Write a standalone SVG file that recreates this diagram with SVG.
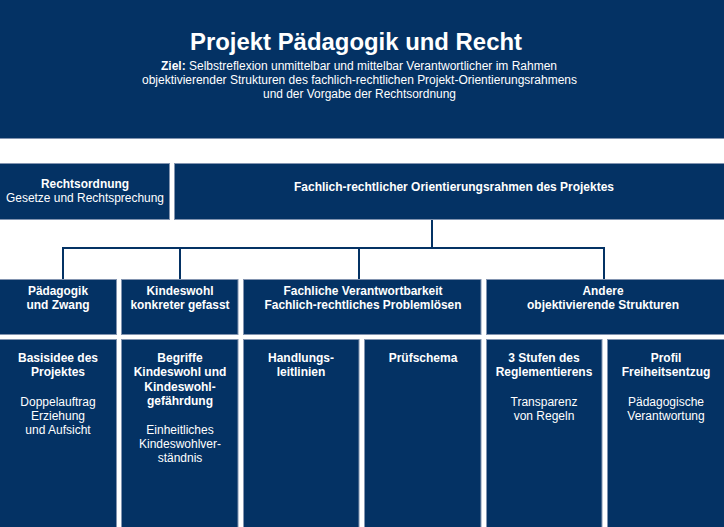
<svg xmlns="http://www.w3.org/2000/svg" width="724" height="527" viewBox="0 0 724 527">
<style>
.box{fill:#043264;stroke:#8294b0;stroke-width:1}
text{fill:#ffffff;font-family:"Liberation Sans",Arial,sans-serif;text-anchor:middle}
.b{font-weight:bold;font-size:12px}
.r{font-size:12px}
.con{fill:none;stroke:#043264;stroke-width:2}
</style>
<rect x="0" y="0" width="724" height="527" fill="#ffffff"/>
<g id="header">
<rect class="box" x="-1" y="-1" width="726" height="139.5"/>
<text x="356" y="50" font-size="24" font-weight="bold" textLength="332" lengthAdjust="spacingAndGlyphs">Projekt Pädagogik und Recht</text>
<text class="r" x="359" y="70" textLength="396" lengthAdjust="spacingAndGlyphs"><tspan font-weight="bold">Ziel:</tspan> Selbstreflexion unmittelbar und mittelbar Verantwortlicher im Rahmen</text>
<text class="r" x="359.5" y="84" textLength="435" lengthAdjust="spacingAndGlyphs">objektivierender Strukturen des fachlich-rechtlichen Projekt-Orientierungsrahmens</text>
<text class="r" x="359.5" y="98" textLength="193" lengthAdjust="spacingAndGlyphs">und der Vorgabe der Rechtsordnung</text>
</g>
<g id="connectors">
<path class="con" d="M432,219 V248 M63,279 V248 H604 V279 M180,248 V279 M359,248 V279"/>
</g>
<g id="rechtsordnung">
<rect class="box" x="-1" y="163.5" width="170.5" height="56"/>
<text class="b" x="85" y="188" textLength="88" lengthAdjust="spacingAndGlyphs">Rechtsordnung</text>
<text class="r" x="85" y="202" textLength="158" lengthAdjust="spacingAndGlyphs">Gesetze und Rechtsprechung</text>
</g>
<g id="rahmen">
<rect class="box" x="174.5" y="163.5" width="551" height="56"/>
<text class="b" x="454" y="191" textLength="320" lengthAdjust="spacingAndGlyphs">Fachlich-rechtlicher Orientierungsrahmen des Projektes</text>
</g>
<g id="paedagogik">
<rect class="box" x="-1" y="279.5" width="117.5" height="55"/>
<text class="b" x="58" y="295" textLength="60" lengthAdjust="spacingAndGlyphs">Pädagogik</text>
<text class="b" x="58" y="309" textLength="63" lengthAdjust="spacingAndGlyphs">und Zwang</text>
</g>
<g id="kindeswohl">
<rect class="box" x="121.5" y="279.5" width="116.5" height="55"/>
<text class="b" x="180" y="295" textLength="67" lengthAdjust="spacingAndGlyphs">Kindeswohl</text>
<text class="b" x="180" y="309" textLength="99" lengthAdjust="spacingAndGlyphs">konkreter gefasst</text>
</g>
<g id="fachlich">
<rect class="box" x="243.5" y="279.5" width="237.5" height="55"/>
<text class="b" x="363" y="295" textLength="159" lengthAdjust="spacingAndGlyphs">Fachliche Verantwortbarkeit</text>
<text class="b" x="363" y="309" textLength="197" lengthAdjust="spacingAndGlyphs">Fachlich-rechtliches Problemlösen</text>
</g>
<g id="andere">
<rect class="box" x="486.5" y="279.5" width="239" height="55"/>
<text class="b" x="603" y="295" textLength="41" lengthAdjust="spacingAndGlyphs">Andere</text>
<text class="b" x="603" y="309" textLength="152" lengthAdjust="spacingAndGlyphs">objektivierende Strukturen</text>
</g>
<g id="basisidee">
<rect class="box" x="-1" y="339.5" width="117.5" height="189"/>
<text class="b" x="58" y="362">Basisidee des</text>
<text class="b" x="58" y="376">Projektes</text>
<text class="r" x="58" y="406">Doppelauftrag</text>
<text class="r" x="58" y="420">Erziehung</text>
<text class="r" x="58" y="434">und Aufsicht</text>
</g>
<g id="begriffe">
<rect class="box" x="121.5" y="339.5" width="116.5" height="189"/>
<text class="b" x="180" y="362">Begriffe</text>
<text class="b" x="180" y="376">Kindeswohl und</text>
<text class="b" x="180" y="391">Kindeswohl-</text>
<text class="b" x="180" y="405">gefährdung</text>
<text class="r" x="180" y="434">Einheitliches</text>
<text class="r" x="180" y="448">Kindeswohlver-</text>
<text class="r" x="180" y="462">ständnis</text>
</g>
<g id="handlungsleitlinien">
<rect class="box" x="243.5" y="339.5" width="115.5" height="189"/>
<text class="b" x="301" y="362">Handlungs-</text>
<text class="b" x="301" y="376">leitlinien</text>
</g>
<g id="pruefschema">
<rect class="box" x="364.5" y="339.5" width="116.5" height="189"/>
<text class="b" x="423" y="362">Prüfschema</text>
</g>
<g id="stufen">
<rect class="box" x="486.5" y="339.5" width="115.5" height="189"/>
<text class="b" x="544" y="362">3 Stufen des</text>
<text class="b" x="544" y="376">Reglementierens</text>
<text class="r" x="544" y="406">Transparenz</text>
<text class="r" x="544" y="420">von Regeln</text>
</g>
<g id="profil">
<rect class="box" x="607.5" y="339.5" width="118" height="189"/>
<text class="b" x="666" y="362">Profil</text>
<text class="b" x="666" y="376">Freiheitsentzug</text>
<text class="r" x="666" y="406">Pädagogische</text>
<text class="r" x="666" y="420">Verantwortung</text>
</g>
</svg>
